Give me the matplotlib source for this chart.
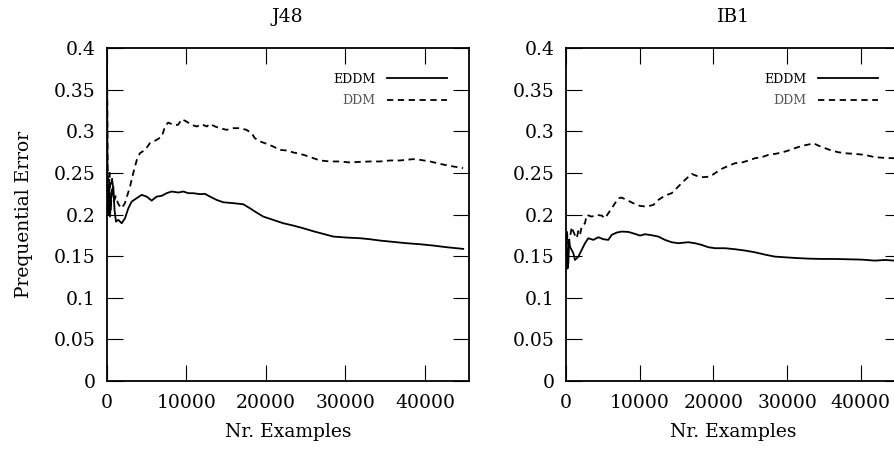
import matplotlib
matplotlib.use("Agg")
import matplotlib.pyplot as plt

plt.rcParams['font.family'] = ['DejaVu Serif']

# J48 panel
j48_ddm_x = [0, 80, 200, 330, 480, 650, 850, 1100, 1400, 1650, 1850, 2250, 2900, 3300, 3750,
             4150, 4800, 5400, 6250, 6900, 7300, 7700, 8350, 8950, 9400, 10000, 10650, 11300,
             11900, 12550, 12950, 13600, 14200, 15050, 15900, 16750, 17550, 18200, 18600, 19250,
             20100, 20900, 21750, 22600, 23450, 24300, 25100, 25950, 26800, 28050, 29300, 30550,
             31800, 33100, 34350, 35600, 36850, 38550, 39350, 40650, 41900, 43150, 44800]
j48_ddm_y = [0.39, 0.255, 0.215, 0.25, 0.205, 0.245, 0.215, 0.222, 0.213, 0.2095, 0.2075, 0.2136,
             0.2336, 0.2496, 0.2656, 0.2737, 0.2776, 0.2857, 0.2897, 0.2937, 0.3057, 0.3105,
             0.3077, 0.3077, 0.3145, 0.3117, 0.3077, 0.3057, 0.3085, 0.3057, 0.3089, 0.3057,
             0.3037, 0.3017, 0.3037, 0.3037, 0.3017, 0.2977, 0.2917, 0.2877, 0.2849, 0.2817,
             0.2776, 0.2769, 0.2745, 0.2729, 0.2705, 0.2677, 0.2649, 0.2637, 0.2637, 0.2625,
             0.2632, 0.2637, 0.2637, 0.2649, 0.2649, 0.2665, 0.2657, 0.2637, 0.2608, 0.2584, 0.2557]
j48_eddm_x = [0, 60, 150, 250, 377, 550, 796, 950, 1132, 1425, 1845, 2264, 2683, 3103, 3732,
              4361, 4990, 5619, 6247, 6876, 7505, 8134, 8973, 9602, 10231, 10860, 11698, 12327,
              12956, 13795, 14633, 15891, 17149, 17987, 18826, 19665, 20922, 22180, 23438, 24696,
              25954, 27212, 28470, 30147, 31824, 33082, 34340, 36017, 37694, 39371, 41048, 42726,
              44822]
j48_eddm_y = [0.39, 0.25, 0.20, 0.235, 0.1975, 0.225, 0.2336, 0.205, 0.1915, 0.1935, 0.1895,
              0.1955, 0.2075, 0.2155, 0.2196, 0.2236, 0.2215, 0.2167, 0.2215, 0.2224, 0.2256,
              0.2276, 0.2264, 0.2276, 0.2256, 0.2256, 0.2244, 0.2248, 0.2215, 0.2175, 0.2147,
              0.2136, 0.2123, 0.2075, 0.2023, 0.1975, 0.1935, 0.1895, 0.1867, 0.1835, 0.1799,
              0.1767, 0.1735, 0.1723, 0.1715, 0.1703, 0.1687, 0.1671, 0.1655, 0.1643, 0.1627,
              0.1607, 0.1587]

# IB1 panel
ib1_ddm_x = [0, 90, 300, 543, 800, 995, 1221, 1447, 1673, 1900, 2126, 2578, 2804, 3483, 4161,
             4840, 5292, 5744, 6197, 6649, 7101, 7553, 8232, 9136, 10041, 10946, 11850, 12529,
             13433, 14338, 15243, 16147, 17052, 17730, 18635, 19539, 20218, 21122, 22027, 22932,
             23836, 24741, 25645, 26550, 27454, 28359, 29264, 30168, 31073, 31978, 32882, 33561,
             34239, 35144, 36048, 36953, 37858, 39215, 40571, 41928, 43285, 44642]
ib1_ddm_y = [0.17, 0.1815, 0.165, 0.1735, 0.185, 0.1795, 0.175, 0.1715, 0.18, 0.1755, 0.1855,
             0.1895, 0.1995, 0.1975, 0.1995, 0.1987, 0.1955, 0.2015, 0.2075, 0.2135, 0.2195,
             0.2203, 0.2175, 0.2135, 0.2103, 0.2095, 0.2115, 0.2175, 0.2227, 0.2256, 0.2336,
             0.2416, 0.2488, 0.2464, 0.2448, 0.2456, 0.2496, 0.2548, 0.2584, 0.2616, 0.2624,
             0.2648, 0.2676, 0.2688, 0.2716, 0.2728, 0.2744, 0.2768, 0.2797, 0.2824, 0.2840,
             0.2856, 0.2828, 0.2797, 0.2768, 0.2748, 0.2736, 0.2728, 0.2716, 0.2688, 0.2680, 0.2676]
ib1_eddm_x = [0, 90, 200, 317, 430, 543, 995, 1221, 1673, 2126, 2578, 3030, 3709, 4387, 5066,
              5744, 6197, 6875, 7553, 8458, 9363, 10041, 10719, 11624, 12529, 13433, 14338,
              15243, 16599, 17504, 18409, 19313, 20218, 21575, 22932, 24288, 25645, 27002,
              28359, 29716, 31073, 32882, 34691, 36501, 38310, 40119, 41928, 43285, 44642]
ib1_eddm_y = [0.165, 0.1735, 0.135, 0.1414, 0.17, 0.1614, 0.1534, 0.1454, 0.1494, 0.1574,
              0.1655, 0.1715, 0.1695, 0.1727, 0.1703, 0.1695, 0.1755, 0.1783, 0.1795, 0.1791,
              0.1767, 0.1747, 0.1763, 0.1751, 0.1735, 0.1695, 0.1667, 0.1655, 0.1667, 0.1655,
              0.1635, 0.1607, 0.1595, 0.1595, 0.1583, 0.1567, 0.1546, 0.1518, 0.1494, 0.1486,
              0.1478, 0.1470, 0.1466, 0.1466, 0.1462, 0.1458, 0.1446, 0.1454, 0.1446]

x_ticks = [0, 10000, 20000, 30000, 40000]
y_ticks = [0, 0.05, 0.1, 0.15, 0.2, 0.25, 0.3, 0.35, 0.4]
y_tick_labels = ['0', '0.05', '0.1', '0.15', '0.2', '0.25', '0.3', '0.35', '0.4']

W, H = 894, 449
fig = plt.figure(figsize=(W / 100, H / 100), dpi=100)

# right panel runs past the figure edge, as in the cropped original
ax1 = fig.add_axes([107 / W, (H - 381) / H, 361.6 / W, 333 / H])
ax2 = fig.add_axes([566 / W, (H - 381) / H, 335.3 / W, 333 / H])

panels = [
    (ax1, 'J48', j48_eddm_x, j48_eddm_y, j48_ddm_x, j48_ddm_y, 0.94),
    (ax2, 'IB1', ib1_eddm_x, ib1_eddm_y, ib1_ddm_x, ib1_ddm_y, 0.93),
]

for ax, title, ex, ey, dx, dy, leg_x in panels:
    ax.plot(ex, ey, color='black', lw=1.3, label='EDDM')
    ax.plot(dx, dy, color='black', lw=1.3, dashes=(3.5, 2.5), label='DDM')
    ax.set_xlim(0, 45500)
    ax.set_ylim(0, 0.4)
    ax.set_xticks(x_ticks)
    ax.set_xticklabels([str(t) for t in x_ticks])
    ax.set_yticks(y_ticks)
    ax.set_yticklabels(y_tick_labels)
    ax.tick_params(direction='in', length=11.5, width=0.8, top=True, right=True,
                   labelsize=13.5, color='black')
    ax.tick_params(axis='y', pad=8)
    ax.tick_params(axis='x', pad=9)
    for s in ax.spines.values():
        s.set_linewidth(1.3)
    ax.set_title(title, fontsize=13.5, pad=19)
    ax.set_xlabel('Nr. Examples', fontsize=13.5, labelpad=8)
    leg = ax.legend(loc='upper right', bbox_to_anchor=(leg_x, 0.926), frameon=False,
                    markerfirst=False, fontsize=9, handlelength=4.8, handletextpad=0.9,
                    labelspacing=0.7, borderpad=0, borderaxespad=0)
    leg.get_texts()[1].set_color('#555555')

ax1.set_ylabel('Prequential Error', fontsize=13.5, labelpad=15)

fig.savefig('out.png', dpi=100)
